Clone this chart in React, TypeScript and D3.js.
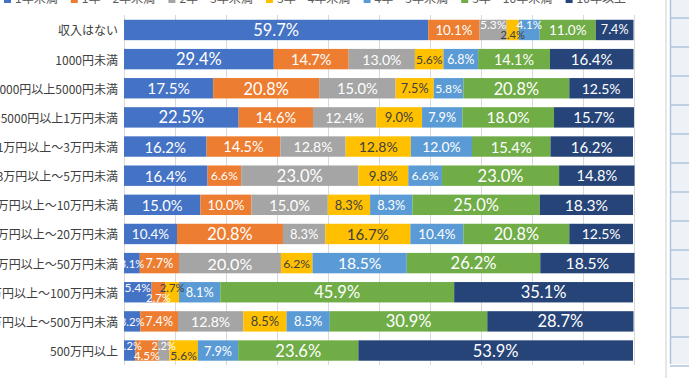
import React from 'react';
import * as d3 from 'd3';

const categories = [
  '収入はない',
  '1000円未満',
  '1000円以上5000円未満',
  '5000円以上1万円未満',
  '1万円以上～3万円未満',
  '3万円以上～5万円未満',
  '5万円以上～10万円未満',
  '10万円以上～20万円未満',
  '20万円以上～50万円未満',
  '50万円以上～100万円未満',
  '100万円以上～500万円未満',
  '500万円以上',
];
const seriesNames = ['1年未満', '1年～2年未満', '2年～3年未満', '3年～4年未満', '4年～5年未満', '5年～10年未満', '10年以上'];
const under1 = [59.7, 29.4, 17.5, 22.5, 16.2, 16.4, 15.0, 10.4, 3.1, 5.4, 3.2, 2.2];
const y1to2 = [10.1, 14.7, 20.8, 14.6, 14.5, 6.6, 10.0, 20.8, 7.7, 2.7, 7.4, 4.5];
const y2to3 = [5.3, 13.0, 15.0, 12.4, 12.8, 23.0, 15.0, 8.3, 20.0, 0, 12.8, 2.2];
const y3to4 = [2.4, 5.6, 7.5, 9.0, 12.8, 9.8, 8.3, 16.7, 6.2, 2.7, 8.5, 5.6];
const y4to5 = [4.1, 6.8, 5.8, 7.9, 12.0, 6.6, 8.3, 10.4, 18.5, 8.1, 8.5, 7.9];
const y5to10 = [11.0, 14.1, 20.8, 18.0, 15.4, 23.0, 25.0, 20.8, 26.2, 45.9, 30.9, 23.6];
const over10 = [7.4, 16.4, 12.5, 15.7, 16.2, 14.8, 18.3, 12.5, 18.5, 35.1, 28.7, 53.9];
const xTicks = [0, 10, 20, 30, 40, 50, 60, 70, 80, 90, 100];

const seriesValues = [under1, y1to2, y2to3, y3to4, y4to5, y5to10, over10];
const colors = ['#4472C4', '#ED7D31', '#A5A5A5', '#FFC000', '#5B9BD5', '#70AD47', '#264478'];
const labelColors = ['#fff', '#fff', '#fff', '#404040', '#fff', '#fff', '#fff'];

const W = 689;
const H = 378;
const FONT_JP = '"Noto Sans CJK JP", "Noto Sans", sans-serif';
const FONT_NUM = 'Lato, "Open Sans", sans-serif';

export default function App() {
  const rows = categories.map((c, i) => {
    const o: any = { cat: c };
    seriesNames.forEach((s, j) => (o[s] = seriesValues[j][i]));
    return o;
  });
  const stacked = d3.stack<any>().keys(seriesNames)(rows);

  const x = d3.scaleLinear().domain([0, 100]).range([124, 633.5]);
  const y = d3
    .scaleBand<string>()
    .domain(categories)
    .range([15.4, 365.1])
    .paddingInner(0.3)
    .paddingOuter(0.15);

  // stagger offsets for crowded small segments
  const offsets: number[][] = categories.map((_, i) => {
    const off = seriesNames.map(() => 0);
    let run: number[] = [];
    const flush = () => {
      if (run.length >= 2) run.forEach((j, k) => (off[j] = k % 2 === 0 ? -5 : 5));
      run = [];
    };
    seriesNames.forEach((_, j) => {
      const v = seriesValues[j][i];
      if (v === 0) return;
      if (v < 6) run.push(j);
      else flush();
    });
    flush();
    return off;
  });

  const fmt = (v: number) => d3.format('.1f')(v) + '%';

  // legend layout
  const estWidth = (s: string) =>
    Array.from(s).reduce((a, ch) => a + (/[0-9]/.test(ch) ? 6.8 : 12), 0);
  let lx = 4;
  const legendItems = seriesNames.map((s, j) => {
    const item = { s, x: lx, color: colors[j] };
    lx += 7 + 4 + estWidth(s) + 13;
    return item;
  });

  const panelLines = d3.range(0, 13).map((k) => 18 + k * 29);

  return (
    <svg
      width={W}
      height={H}
      style={{ position: 'absolute', left: 0, top: 0, background: '#fff' }}
    >
      <rect x={0} y={0} width={W} height={H} fill="#fff" />
      {/* right spreadsheet panel */}
      <line x1={666} x2={666} y1={0} y2={H} stroke="#E6E6E6" strokeWidth={2} />
      <rect x={670} y={0} width={W - 670} height={364} fill="#EEF2F7" />
      <line x1={670.5} x2={670.5} y1={0} y2={364} stroke="#AFC4DC" strokeWidth={1.5} />
      {panelLines.map((py) => (
        <line key={py} x1={670} x2={W} y1={py} y2={py} stroke="#AFC4DC" strokeWidth={1.5} />
      ))}

      {/* legend (mostly cut off at top) */}
      {legendItems.map((it) => (
        <g key={it.s}>
          <rect x={it.x} y={-4} width={7} height={7} fill={it.color} />
          <text x={it.x + 11} y={3} fontSize={12} fill="#595959" fontFamily={FONT_JP}>
            {it.s}
          </text>
        </g>
      ))}

      {/* gridlines */}
      {xTicks.map((t) => (
        <line
          key={t}
          x1={Math.round(x(t)) + 0.5}
          x2={Math.round(x(t)) + 0.5}
          y1={15}
          y2={365}
          stroke="#D9D9D9"
          strokeWidth={1}
        />
      ))}

      {/* bars */}
      {stacked.map((layer, j) => (
        <g key={layer.key}>
          {layer.map((d, i) => {
            const x0 = x(d[0]);
            const x1 = x(d[1]);
            if (x1 - x0 <= 0) return null;
            return (
              <rect
                key={i}
                x={x0}
                y={y(categories[i])!}
                width={x1 - x0}
                height={y.bandwidth()}
                fill={colors[j]}
              />
            );
          })}
        </g>
      ))}

      {/* data labels */}
      {stacked.map((layer, j) => (
        <g key={'l' + layer.key}>
          {layer.map((d, i) => {
            const v = seriesValues[j][i];
            if (!v) return null;
            const x0 = x(d[0]);
            const x1 = x(d[1]);
            const w = x1 - x0;
            const fs = Math.min(16.5, Math.max(10, 10.5 + w * 0.055));
            return (
              <text
                key={i}
                x={(x0 + x1) / 2}
                y={y(categories[i])! + y.bandwidth() / 2 + offsets[i][j]}
                textAnchor="middle"
                dominantBaseline="central"
                fontSize={fs}
                fill={labelColors[j]}
                fontFamily={FONT_NUM}
              >
                {fmt(v)}
              </text>
            );
          })}
        </g>
      ))}

      {/* category labels */}
      {categories.map((c) => (
        <text
          key={c}
          x={118}
          y={y(c)! + y.bandwidth() / 2}
          textAnchor="end"
          dominantBaseline="central"
          fontSize={12}
          fill="#404040"
          fontFamily={FONT_JP}
        >
          {c}
        </text>
      ))}

      {/* x axis labels (cut off at bottom) */}
      {xTicks.map((t) => (
        <text
          key={'t' + t}
          x={x(t)}
          y={386}
          textAnchor="middle"
          fontSize={12}
          fill="#595959"
          fontFamily={FONT_NUM}
        >
          {fmt(t)}
        </text>
      ))}
    </svg>
  );
}
